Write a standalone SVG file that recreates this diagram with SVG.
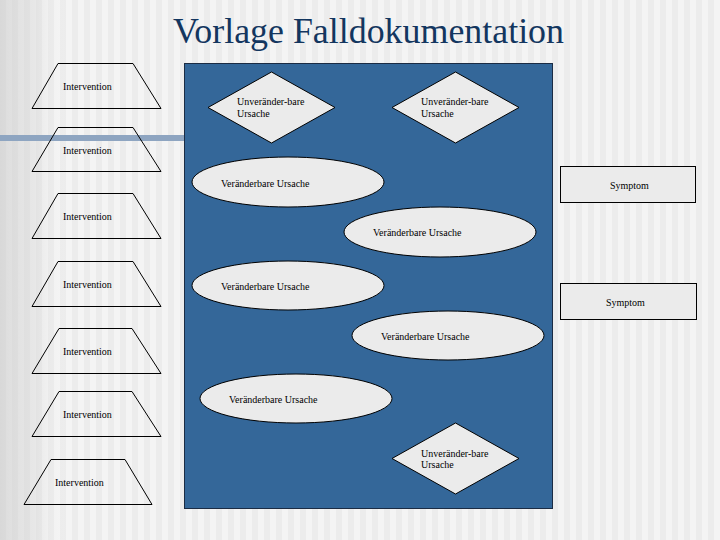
<svg xmlns="http://www.w3.org/2000/svg" width="720" height="540" viewBox="0 0 720 540">
  <defs>
    <pattern id="stripes" x="0" y="0" width="12" height="540" patternUnits="userSpaceOnUse">
      <rect x="0" y="0" width="12" height="540" fill="#f4f4f4"/>
      <rect x="0" y="0" width="6" height="540" fill="#ececec"/>
    </pattern>
    <linearGradient id="leftShade" x1="0" y1="0" x2="1" y2="0">
      <stop offset="0" stop-color="#c8c8c8" stop-opacity="0.55"/>
      <stop offset="0.5" stop-color="#d0d0d0" stop-opacity="0.35"/>
      <stop offset="1" stop-color="#ffffff" stop-opacity="0"/>
    </linearGradient>
  </defs>
  <style>
    .shape { fill: #ebebeb; stroke: #000000; stroke-width: 1; }
    .trap { fill: none; stroke: #000000; stroke-width: 1; }
    text { font-family: "Liberation Serif", "Times New Roman", serif; }
    .lbl { font-size: 10px; fill: #000000; }
    .title { font-size: 36px; fill: #13365f; }
  </style>

  <!-- background -->
  <rect x="0" y="0" width="720" height="540" fill="url(#stripes)"/>
  <rect x="0" y="0" width="70" height="540" fill="url(#leftShade)"/>
  <rect x="0" y="135" width="185" height="6" fill="#8ea5c1"/>

  <text class="title" x="173" y="43" textLength="391" lengthAdjust="spacingAndGlyphs">Vorlage Falldokumentation</text>

  <!-- blue panel -->
  <rect id="panel" x="184.5" y="63.5" width="368" height="445" fill="#346799" stroke="#1b2c44" stroke-width="1"/>

  <g id="connectors"/>

  <!-- Interventions -->
  <g id="intervention1">
    <polygon class="trap" points="58,63.5 133,63.5 161,108.5 32,108.5"/>
    <text class="lbl" x="63" y="89.5">Intervention</text>
  </g>
  <g id="intervention2">
    <polygon class="trap" points="58,127.5 133,127.5 161,171.5 32,171.5"/>
    <text class="lbl" x="63" y="153.5">Intervention</text>
  </g>
  <g id="intervention3">
    <polygon class="trap" points="58,193.5 133,193.5 161,238.5 32,238.5"/>
    <text class="lbl" x="63" y="219.5">Intervention</text>
  </g>
  <g id="intervention4">
    <polygon class="trap" points="58,261.5 133,261.5 161,306.5 32,306.5"/>
    <text class="lbl" x="63" y="287.5">Intervention</text>
  </g>
  <g id="intervention5">
    <polygon class="trap" points="59,328.5 132,328.5 161,373.5 32,373.5"/>
    <text class="lbl" x="63" y="354.5">Intervention</text>
  </g>
  <g id="intervention6">
    <polygon class="trap" points="59,391.5 132,391.5 161,436.5 32,436.5"/>
    <text class="lbl" x="63" y="417.5">Intervention</text>
  </g>
  <g id="intervention7">
    <polygon class="trap" points="51,459.5 125,459.5 152,504.5 24,504.5"/>
    <text class="lbl" x="55" y="486">Intervention</text>
  </g>

  <!-- Unveränderbare Ursachen (diamonds) -->
  <g id="unveraenderbar1">
    <polygon class="shape" points="271.5,72 335,107.5 271.5,143 208,107.5"/>
    <text class="lbl" x="237" y="105">Unveränder-bare</text>
    <text class="lbl" x="237" y="117">Ursache</text>
  </g>
  <g id="unveraenderbar2">
    <polygon class="shape" points="455.5,72 519,107.5 455.5,143 392,107.5"/>
    <text class="lbl" x="421" y="105">Unveränder-bare</text>
    <text class="lbl" x="421" y="117">Ursache</text>
  </g>
  <g id="unveraenderbar3">
    <polygon class="shape" points="455.5,423 519,458.5 455.5,494 392,458.5"/>
    <text class="lbl" x="421" y="456.5">Unveränder-bare</text>
    <text class="lbl" x="421" y="468">Ursache</text>
  </g>

  <!-- Veränderbare Ursachen (ellipses) -->
  <g id="veraenderbar1">
    <ellipse class="shape" cx="288" cy="182" rx="96" ry="25"/>
    <text class="lbl" x="221" y="187">Veränderbare Ursache</text>
  </g>
  <g id="veraenderbar2">
    <ellipse class="shape" cx="440" cy="232" rx="96" ry="25"/>
    <text class="lbl" x="373" y="235.5">Veränderbare Ursache</text>
  </g>
  <g id="veraenderbar3">
    <ellipse class="shape" cx="288" cy="285.5" rx="96" ry="24.5"/>
    <text class="lbl" x="221" y="290">Veränderbare Ursache</text>
  </g>
  <g id="veraenderbar4">
    <ellipse class="shape" cx="448" cy="335.5" rx="96" ry="24.5"/>
    <text class="lbl" x="381" y="339.5">Veränderbare Ursache</text>
  </g>
  <g id="veraenderbar5">
    <ellipse class="shape" cx="296" cy="398.5" rx="96" ry="24.5"/>
    <text class="lbl" x="229" y="402.5">Veränderbare Ursache</text>
  </g>

  <!-- Symptoms -->
  <g id="symptom1">
    <rect class="shape" x="560.5" y="166.5" width="135" height="36"/>
    <text class="lbl" x="610" y="188.5">Symptom</text>
  </g>
  <g id="symptom2">
    <rect class="shape" x="560.5" y="283.5" width="136" height="36"/>
    <text class="lbl" x="606" y="305.5">Symptom</text>
  </g>
</svg>
